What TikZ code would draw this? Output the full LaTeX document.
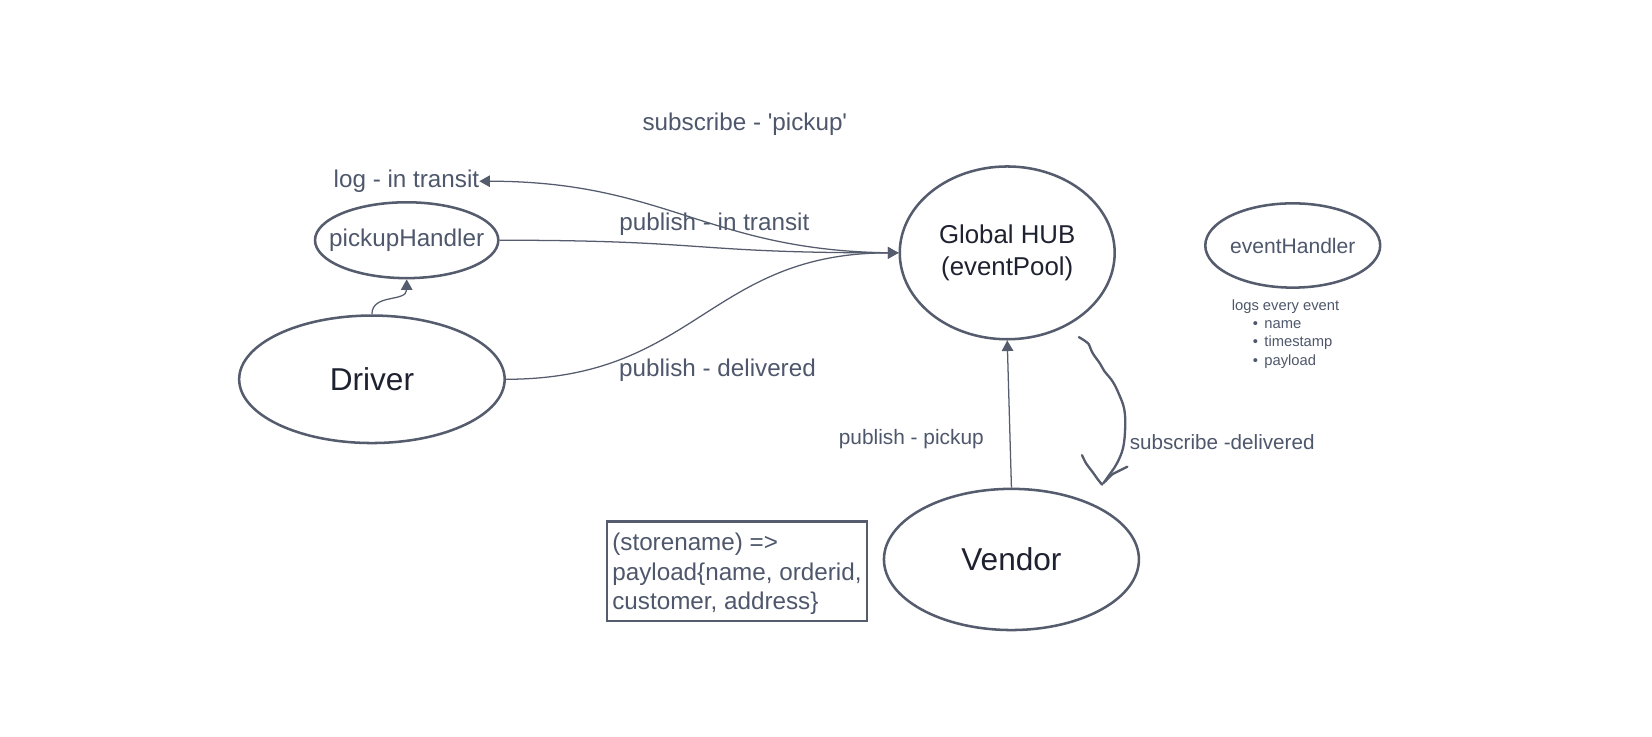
\documentclass[tikz,border=0pt]{standalone}
\usepackage{fontspec}
\setmainfont{Liberation Sans}
\usetikzlibrary{arrows.meta,shapes.geometric}
\definecolor{strk}{HTML}{555C6E}
\definecolor{txt}{HTML}{4E576B}
\definecolor{dark}{HTML}{1E2130}
\begin{document}
\begin{tikzpicture}[x=1pt,y=-1pt,
  ell/.style={draw=strk,line width=2.4pt,ellipse,inner sep=0pt},
  lbl/.style={text=txt,font=\fontsize{23}{28}\selectfont,inner sep=0pt},
  conn/.style={draw=strk,line width=1.2pt,-{Triangle[length=10pt,width=11pt]}},
  small/.style={text=txt,font=\fontsize{14}{17}\selectfont,inner sep=0pt,anchor=west},
]
\useasboundingbox[fill=white] (0,0) rectangle (1568,698.6);

% nodes
\node[ell,minimum width=174,minimum height=72,text=txt,font=\fontsize{23}{28}\selectfont] (ph) at (386,228) {\makebox[0pt]{pickupHandler}};
\node[ell,minimum width=252,minimum height=121,text=dark,font=\fontsize{30}{36}\selectfont] (dr) at (353,360) {Driver};
\node[ell,minimum width=204,minimum height=164,text=dark,font=\fontsize{24.5}{31}\selectfont,align=center] (hub) at (956,240) {Global HUB\\(eventPool)};
\node[ell,minimum width=166,minimum height=80,text=txt,font=\fontsize{20}{24}\selectfont] (eh) at (1227,233) {\makebox[0pt]{eventHandler}};
\node[ell,minimum width=242,minimum height=134,text=dark,font=\fontsize{30}{36}\selectfont] (vd) at (960,531) {Vendor};

\node[draw=strk,line width=2pt,minimum width=247,minimum height=94,anchor=north west,inner sep=0pt] (bx) at (575,494) {};
\node[lbl,anchor=north west,align=left,font=\fontsize{23}{28}\selectfont] (bxt) at (581,506) {(storename) =>\\payload\{name, orderid,\\customer, address\}};

% labels
\node[lbl] (subp) at (707,118) {subscribe - \textquotesingle pickup\textquotesingle};
\node[lbl,anchor=east] (log) at (455,172) {log - in transit};
\node[lbl] (pit) at (678,213) {publish - in transit};
\node[lbl] (pdl) at (681,351) {publish - delivered};
\node[lbl,font=\fontsize{19.8}{24}\selectfont] (ppk) at (865,417) {publish - pickup};
\node[lbl,font=\fontsize{19.6}{24}\selectfont] (sdl) at (1160,420) {subscribe -delivered};

\node[small] (lee) at (1169,291) {logs every event};
\node[small] (b1) at (1189,308) {•\hspace{6pt}name};
\node[small] (b2) at (1189,325) {•\hspace{6pt}timestamp};
\node[small] (b3) at (1189,343) {•\hspace{6pt}payload};

% connectors
\draw[conn] (dr.north) .. controls +(0,-20) and +(0,22) .. (ph.south);
\draw[conn] (ph.east) .. controls +(200,0) and +(-200,0) .. (hub.west);
\draw[conn] (dr.east) .. controls +(180,0) and +(-180,0) .. (hub.west);
\draw[conn] (hub.west) .. controls +(-180,0) and +(180,0) .. (log.east);
\draw[conn] (vd.north) -- (hub.south);

% hand-drawn arrow
\draw[strk,line width=2.2pt,line cap=round,line join=round] plot[smooth,tension=0.6] coordinates {
  (1024,320) (1029,323) (1033,326) (1037,335) (1044,345) (1048,352) (1056,362) (1062,374) (1067,388) (1068,405) (1066,425) (1060,440) (1052,452) (1047,459)};
\draw[strk,line width=2.2pt,line cap=round,line join=round] plot[smooth,tension=0.6] coordinates {
  (1027,432) (1031,440) (1037,448) (1042,455) (1046,460)};
\draw[strk,line width=2.2pt,line cap=round,line join=round] plot[smooth,tension=0.6] coordinates {
  (1049,457) (1056,450) (1062,447) (1070,443)};
\end{tikzpicture}
\end{document}
